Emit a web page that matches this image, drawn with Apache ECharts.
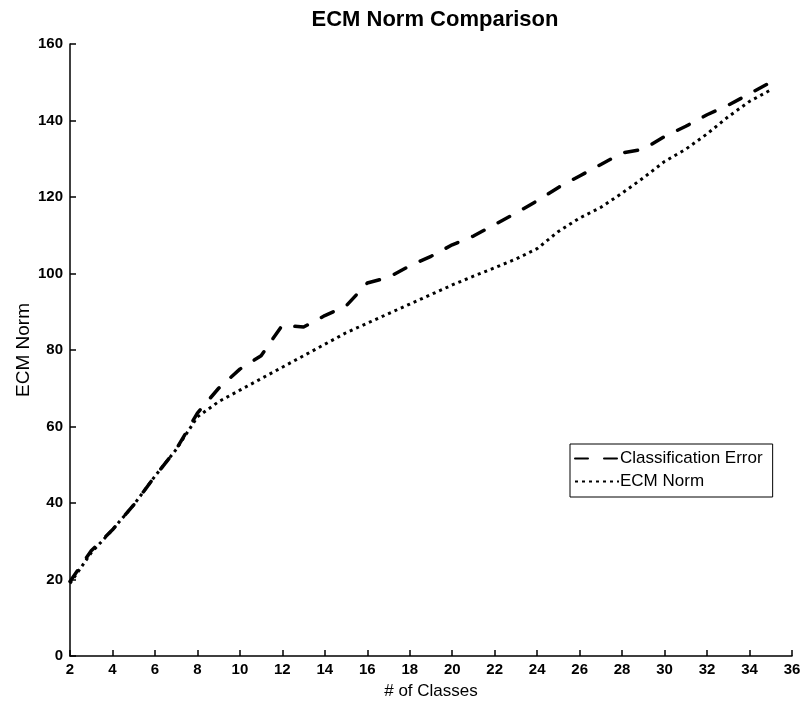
<!DOCTYPE html>
<html>
<head>
<meta charset="utf-8">
<title>ECM Norm Comparison</title>
<script src="https://cdn.jsdelivr.net/npm/echarts@6/dist/echarts.min.js"></script>
<style>
  html, body { margin: 0; padding: 0; background: #fff; }
  #chart-container { width: 802px; height: 705px; }
</style>
</head>
<body>
<div id="chart-container"></div>
<script>
// Number of classes (x values)
const classes = [2, 3, 4, 5, 6, 7, 8, 9, 10, 11, 12, 13, 14, 15, 16, 17, 18,
  19, 20, 21, 22, 23, 24, 25, 26, 27, 28, 29, 30, 31, 32, 33, 34, 35];

// Dashed series: Classification Error
const classificationError = [19.5, 27.5, 33, 39.5, 47, 54, 63.5, 70, 75, 78.5,
  86.5, 86, 89, 91.5, 97.5, 99, 102, 104.5, 107.5, 109.8, 112.8, 115.8, 119,
  122.5, 125.5, 128.5, 131.5, 132.5, 135.8, 138.5, 141.5, 144, 147, 150];

// Dotted series: ECM Norm
const ecmNorm = [19, 27, 33, 39.5, 47, 54, 62.5, 66.5, 69.5, 72.5, 75.5, 78.5,
  81.5, 84.5, 87, 89.5, 92, 94.5, 97, 99.3, 101.5, 103.8, 106.5, 111, 114.5,
  117.3, 121, 125, 129.3, 132.5, 136.5, 141, 145, 148];

const seriesNames = ["Classification Error", "ECM Norm"];

const chartElt = document.getElementById("chart-container");
const chart = echarts.init(chartElt, null, { renderer: "canvas" });

const font = "'Liberation Sans', Arial, Helvetica, sans-serif";

function pairs(xs, ys) {
  return xs.map((x, i) => [x, ys[i]]);
}

chart.setOption({
  backgroundColor: "#fff",
  animation: false,
  title: {
    text: "ECM Norm Comparison",
    left: 430,
    textAlign: "center",
    top: 4,
    textStyle: { fontFamily: font, fontSize: 22, fontWeight: "bold", color: "#000" }
  },
  grid: { left: 70, right: 10, top: 44, bottom: 49, outerBoundsMode: "none", containLabel: false },
  legend: {
    orient: "vertical",
    left: 570,
    top: 444,
    padding: [6, 10, 7, 4],
    itemGap: 6,
    itemWidth: 44,
    itemHeight: 16,
    borderColor: "#000",
    borderWidth: 1,
    backgroundColor: "#fff",
    itemStyle: { opacity: 0 },
    textStyle: { fontFamily: font, fontSize: 17, color: "#000", padding: [0, 0, 0, -4] },
    data: seriesNames
  },
  xAxis: {
    type: "value",
    min: 2,
    max: 36,
    interval: 2,
    name: "# of Classes",
    nameLocation: "middle",
    nameGap: 27,
    nameTextStyle: { fontFamily: font, fontSize: 17, color: "#000" },
    axisLine: { lineStyle: { color: "#000", width: 1.5 } },
    axisTick: { inside: true, length: 6, lineStyle: { color: "#000", width: 1.5 } },
    axisLabel: { fontFamily: font, fontSize: 15, fontWeight: "bold", color: "#000", margin: 6 },
    splitLine: { show: false }
  },
  yAxis: {
    type: "value",
    min: 0,
    max: 160,
    interval: 20,
    name: "ECM Norm",
    nameLocation: "middle",
    nameGap: 37,
    nameMoveOverlap: false,
    nameTextStyle: { fontFamily: font, fontSize: 19, color: "#000" },
    axisLine: { show: true, lineStyle: { color: "#000", width: 1.5 } },
    axisTick: { show: true, inside: true, length: 6, lineStyle: { color: "#000", width: 1.5 } },
    axisLabel: { fontFamily: font, fontSize: 15, fontWeight: "bold", color: "#000", margin: 7 },
    splitLine: { show: false }
  },
  series: [
    {
      name: seriesNames[0],
      type: "line",
      symbol: "none",
      data: pairs(classes, classificationError),
      lineStyle: { color: "#000", width: 3.5, type: [13, 16], cap: "round" },
      itemStyle: { color: "#000" },
      z: 3
    },
    {
      name: seriesNames[1],
      type: "line",
      symbol: "none",
      data: pairs(classes, ecmNorm),
      lineStyle: { color: "#000", width: 3, type: [3, 4] },
      itemStyle: { color: "#000" },
      z: 2
    }
  ]
});
</script>
</body>
</html>
